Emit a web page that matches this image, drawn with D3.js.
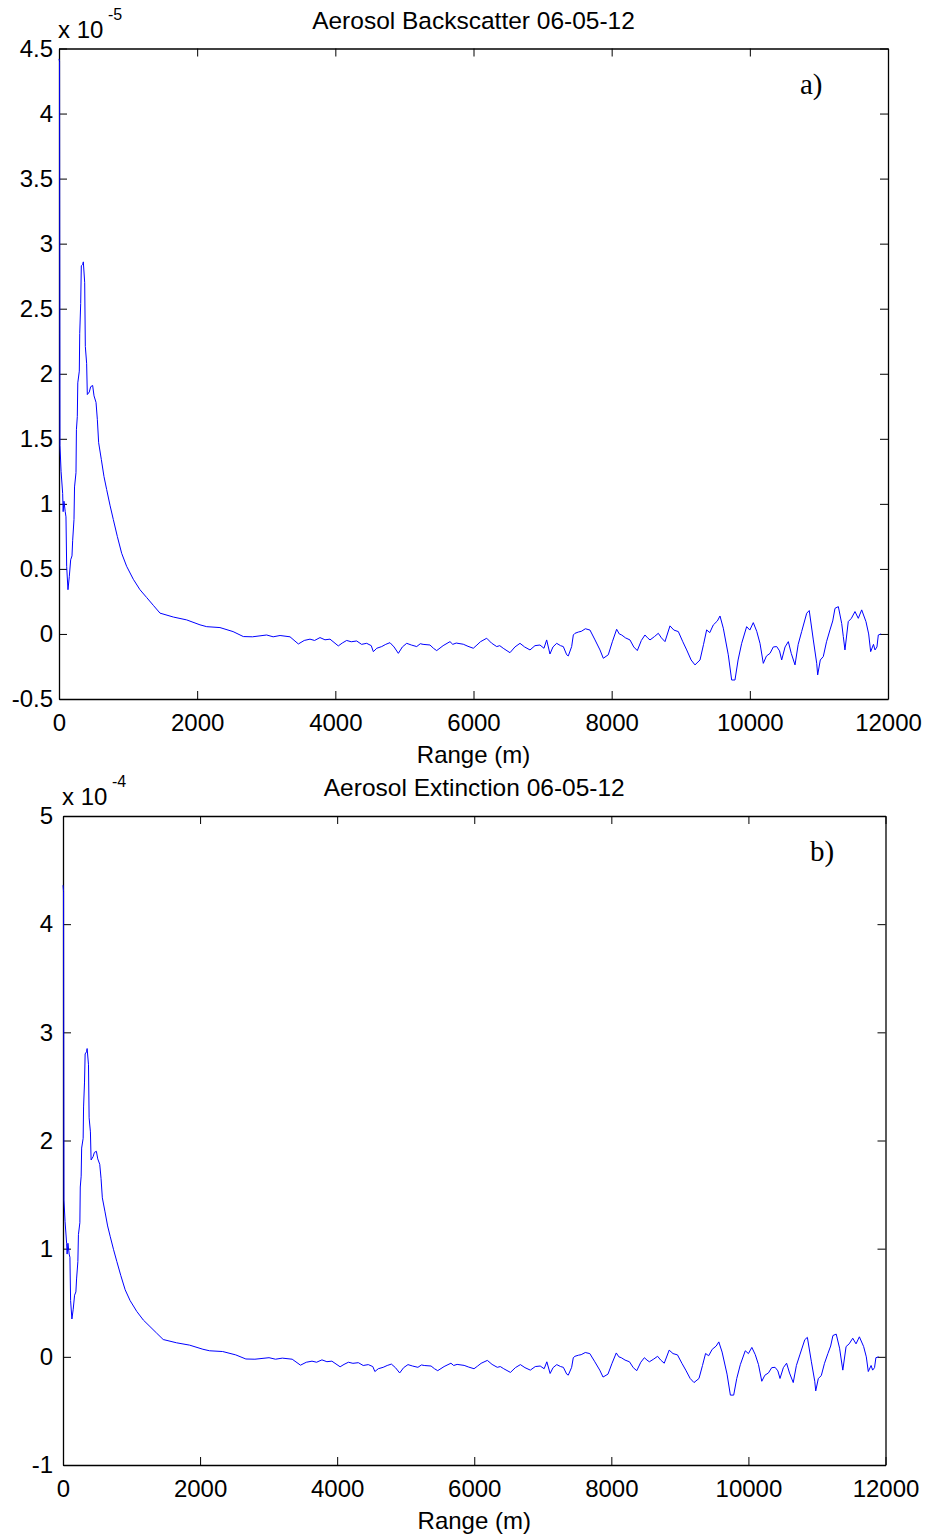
<!DOCTYPE html>
<html>
<head>
<meta charset="utf-8">
<script src="https://cdn.jsdelivr.net/npm/d3@7"></script>
<style>
body{margin:0;background:#fff}
text{font-family:"Liberation Sans",Arial,sans-serif;fill:#000}
</style>
</head>
<body>
<svg id="fig" width="929" height="1537"></svg>
<script>
// range bins (m), shared by both profiles
var rangeM = [0,8,14,30,53,60,72,90,101,111,130,149,169,188,198,217,225,246,252,265,272,294,300,314,323,343,352,372,381,400,410,439,458,487,507,536,555,574,613,651,690,738,786,844,907,979,1076,1172,1269,1365,1462,1655,1848,2041,2138,2330,2520,2668,2800,3006,3100,3200,3344,3465,3550,3633,3700,3778,3850,3923,4043,4100,4164,4230,4309,4380,4454,4520,4550,4600,4671,4730,4791,4850,4912,4970,5033,5100,5178,5230,5270,5370,5420,5467,5560,5660,5700,5750,5852,5920,5997,6050,6100,6191,6260,6336,6380,6430,6528,6600,6673,6740,6818,6890,6962,7020,7059,7107,7150,7204,7260,7300,7349,7372,7421,7445,7469,7520,7560,7620,7686,7759,7831,7879,7951,8010,8072,8110,8145,8200,8265,8320,8371,8430,8482,8520,8555,8620,8675,8720,8772,8844,8900,8965,9030,9086,9150,9206,9279,9330,9375,9420,9471,9530,9568,9616,9688,9737,9785,9830,9882,9954,10000,10050,10100,10147,10195,10240,10292,10340,10389,10430,10461,10510,10557,10600,10654,10700,10750,10823,10860,10919,10968,10982,11020,11063,11110,11160,11200,11233,11281,11330,11353,11377,11425,11470,11522,11570,11619,11681,11720,11749,11790,11812,11840,11860,11900]

// aerosol backscatter, units of 1e-5
var backscatter = [4.42,4.40,1.45,1.25,1.08,0.94,1.02,0.94,0.90,0.52,0.34,0.44,0.57,0.60,0.72,0.88,1.13,1.24,1.57,1.67,1.93,2.02,2.31,2.54,2.83,2.84,2.86,2.70,2.21,2.08,1.84,1.86,1.90,1.91,1.83,1.78,1.65,1.47,1.34,1.21,1.11,0.99,0.88,0.75,0.62,0.52,0.42,0.34,0.28,0.22,0.16,0.13,0.108,0.07,0.056,0.049,0.018,-0.02,-0.022,-0.008,-0.022,-0.012,-0.022,-0.077,-0.05,-0.04,-0.05,-0.028,-0.045,-0.04,-0.092,-0.07,-0.05,-0.06,-0.054,-0.08,-0.072,-0.09,-0.136,-0.11,-0.097,-0.08,-0.067,-0.1,-0.149,-0.1,-0.072,-0.085,-0.097,-0.075,-0.08,-0.085,-0.11,-0.128,-0.09,-0.059,-0.08,-0.07,-0.079,-0.095,-0.11,-0.085,-0.06,-0.033,-0.07,-0.097,-0.09,-0.11,-0.144,-0.1,-0.072,-0.1,-0.123,-0.09,-0.085,-0.11,-0.046,-0.154,-0.1,-0.072,-0.09,-0.097,-0.16,-0.169,-0.097,-0.008,0.005,0.015,0.02,0.04,0.03,-0.046,-0.123,-0.187,-0.16,-0.06,0.036,0.0,-0.008,-0.03,-0.046,-0.1,-0.128,-0.05,-0.008,-0.03,-0.046,-0.02,0.005,-0.03,-0.059,0.062,0.03,0.018,-0.06,-0.123,-0.2,-0.238,-0.2,-0.08,0.031,0.01,0.069,0.1,0.138,0.044,-0.16,-0.354,-0.354,-0.2,-0.072,0.056,0.03,0.087,0.02,-0.072,-0.226,-0.17,-0.149,-0.1,-0.097,-0.13,-0.2,-0.1,-0.059,-0.15,-0.238,-0.08,0.018,0.159,0.18,-0.046,-0.226,-0.315,-0.2,-0.174,-0.06,0.031,0.1,0.197,0.21,0.08,-0.02,-0.123,0.095,0.12,0.172,0.12,0.185,0.095,0.0,-0.136,-0.08,-0.123,-0.1,-0.008,0.0]

// aerosol extinction, units of 1e-4
var extinction = [4.36,4.30,1.45,1.25,1.05,0.95,1.05,0.95,0.92,0.52,0.35,0.44,0.57,0.60,0.72,0.88,1.13,1.24,1.57,1.67,1.93,2.02,2.31,2.54,2.80,2.82,2.85,2.70,2.21,2.08,1.82,1.85,1.89,1.90,1.83,1.78,1.65,1.47,1.34,1.21,1.11,0.99,0.88,0.75,0.62,0.52,0.42,0.34,0.28,0.22,0.16,0.13,0.108,0.07,0.056,0.049,0.018,-0.02,-0.022,-0.008,-0.022,-0.012,-0.022,-0.077,-0.05,-0.04,-0.05,-0.028,-0.045,-0.04,-0.092,-0.07,-0.05,-0.06,-0.054,-0.08,-0.072,-0.09,-0.136,-0.11,-0.097,-0.08,-0.067,-0.1,-0.149,-0.1,-0.072,-0.085,-0.097,-0.075,-0.08,-0.085,-0.11,-0.128,-0.09,-0.059,-0.08,-0.07,-0.079,-0.095,-0.11,-0.085,-0.06,-0.033,-0.07,-0.097,-0.09,-0.11,-0.144,-0.1,-0.072,-0.1,-0.123,-0.09,-0.085,-0.11,-0.046,-0.154,-0.1,-0.072,-0.09,-0.097,-0.16,-0.169,-0.097,-0.008,0.005,0.015,0.02,0.04,0.03,-0.046,-0.123,-0.187,-0.16,-0.06,0.036,0.0,-0.008,-0.03,-0.046,-0.1,-0.128,-0.05,-0.008,-0.03,-0.046,-0.02,0.005,-0.03,-0.059,0.062,0.03,0.018,-0.06,-0.123,-0.2,-0.238,-0.2,-0.08,0.031,0.01,0.069,0.1,0.138,0.044,-0.16,-0.354,-0.354,-0.2,-0.072,0.056,0.03,0.087,0.02,-0.072,-0.226,-0.17,-0.149,-0.1,-0.097,-0.13,-0.2,-0.1,-0.059,-0.15,-0.238,-0.08,0.018,0.159,0.18,-0.046,-0.226,-0.315,-0.2,-0.174,-0.06,0.031,0.1,0.197,0.21,0.08,-0.02,-0.123,0.095,0.12,0.172,0.12,0.185,0.095,0.0,-0.136,-0.08,-0.123,-0.1,-0.008,0.0]

var xTicks = [0,2000,4000,6000,8000,10000,12000]
var backTicks = [-0.5,0,0.5,1,1.5,2,2.5,3,3.5,4,4.5]
var extTicks = [-1,0,1,2,3,4,5]

var svg = d3.select("#fig")

function drawPanel(cfg){
    var g = svg.append("g")

    var x = d3.scaleLinear().domain([0,12000]).range([cfg.left, cfg.right])
    var y = d3.scaleLinear().domain(cfg.yDomain).range([cfg.bottom, cfg.top])
    var fmt = function(d){ return String(d) }

    // bottom + left axes with labels, ticks pointing inward
    g.append("g")
        .attr("transform", `translate(0,${cfg.bottom})`)
        .call(d3.axisBottom(x).tickValues(xTicks).tickFormat(fmt).tickSizeInner(-8).tickSizeOuter(0).tickPadding(15))
    g.append("g")
        .attr("transform", `translate(${cfg.left},0)`)
        .call(d3.axisLeft(y).tickValues(cfg.yTicks).tickFormat(fmt).tickSizeInner(-8).tickSizeOuter(0).tickPadding(cfg.yPad))

    // top + right axes, ticks only
    g.append("g")
        .attr("transform", `translate(0,${cfg.top})`)
        .call(d3.axisTop(x).tickValues(xTicks).tickFormat("").tickSizeInner(-8).tickSizeOuter(0))
    g.append("g")
        .attr("transform", `translate(${cfg.right},0)`)
        .call(d3.axisRight(y).tickValues(cfg.yTicks).tickFormat("").tickSizeInner(-8).tickSizeOuter(0))

    g.selectAll(".tick text").style("font-size","24px").attr("fill","#000")
    g.selectAll(".domain").attr("stroke","#000").attr("stroke-width",1.3)
    g.selectAll(".tick line").attr("stroke","#000")

    // profile line
    var line = d3.line()
        .x(function(d,i){ return x(rangeM[i]) })
        .y(function(d){ return y(d) })
    g.append("path")
        .datum(cfg.values)
        .attr("d", line)
        .attr("fill","none")
        .attr("stroke","#0000ff")
        .attr("stroke-width",1)

    // title
    g.append("text").text(cfg.title)
        .attr("x",(cfg.left+cfg.right)/2)
        .attr("y",cfg.top-20)
        .attr("text-anchor","middle")
        .style("font-size","24.5px")

    // exponent label
    g.append("text").text("x 10")
        .attr("x",cfg.left-1)
        .attr("y",cfg.top-11)
        .style("font-size","24px")
    g.append("text").text(cfg.exp)
        .attr("x",cfg.left+49)
        .attr("y",cfg.top-29)
        .style("font-size","16px")

    // x label
    g.append("text").text("Range (m)")
        .attr("x",(cfg.left+cfg.right)/2)
        .attr("y",cfg.bottom+64)
        .attr("text-anchor","middle")
        .style("font-size","24px")

    // panel letter
    g.append("text").text(cfg.letter)
        .attr("x",cfg.letterX)
        .attr("y",cfg.top+45)
        .style("font-family","'Liberation Serif','Times New Roman',serif")
        .style("font-size","29px")
}

drawPanel({left:59, right:888, top:48.5, bottom:699, yDomain:[-0.5,4.5], yTicks:backTicks,
    values:backscatter, title:"Aerosol Backscatter 06-05-12", exp:"-5", letter:"a)", letterX:800, yPad:6})
drawPanel({left:63, right:885.5, top:816, bottom:1465, yDomain:[-1,5], yTicks:extTicks,
    values:extinction, title:"Aerosol Extinction 06-05-12", exp:"-4", letter:"b)", letterX:810, yPad:10})
</script>
</body>
</html>
